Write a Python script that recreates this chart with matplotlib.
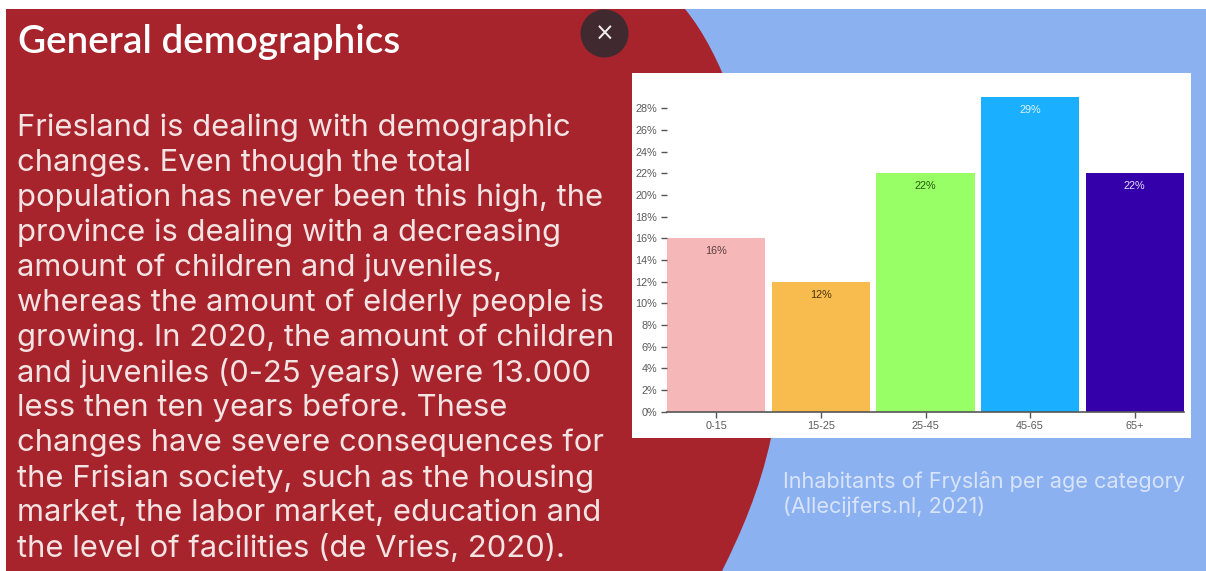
import matplotlib
matplotlib.use('Agg')
import matplotlib.pyplot as plt
from matplotlib.patches import Circle, PathPatch, Rectangle
from matplotlib.path import Path

W, H = 1206, 571

age_groups = ['0-15', '15-25', '25-45', '45-65', '65+']
shares = [16, 12, 22, 29, 22]
bar_colors = ['#F5B7B7', '#F8BC4E', '#99FF66', '#1AB0FF', '#3300AA']
value_colors = ['#5A3E3E', '#4A3408', '#245A0C', '#DFF3FF', '#E8E0FF']
pct_ticks = list(range(0, 29, 2))

title = 'General demographics'
body_lines = [
    'Friesland is dealing with demographic',
    'changes. Even though the total',
    'population has never been this high, the',
    'province is dealing with a decreasing',
    'amount of children and juveniles,',
    'whereas the amount of elderly people is',
    'growing. In 2020, the amount of children',
    'and juveniles (0-25 years) were 13.000',
    'less then ten years before. These',
    'changes have severe consequences for',
    'the Frisian society, such as the housing',
    'market, the labor market, education and',
    'the level of facilities (de Vries, 2020).',
]
caption_lines = ['Inhabitants of Fryslân per age category', '(Allecijfers.nl, 2021)']

RED = '#A8242D'
BLUE = '#8CB1F1'

fig = plt.figure(figsize=(W / 100, H / 100), dpi=100, facecolor='white')

# full-size layer in pixel coordinates for the slide background and copy
bg = fig.add_axes([0, 0, 1, 1])
bg.set_xlim(0, W)
bg.set_ylim(H, 0)
bg.axis('off')

bg.add_patch(Rectangle((6, 9), W - 6, H - 9, fc=BLUE, ec='none'))
verts = [(6, 9), (685, 9),
         (760, 100), (790, 330), (771, 438),
         (760, 490), (740, 535), (722, 571),
         (6, 571), (6, 9)]
codes = [Path.MOVETO, Path.LINETO,
         Path.CURVE4, Path.CURVE4, Path.CURVE4,
         Path.CURVE4, Path.CURVE4, Path.CURVE4,
         Path.LINETO, Path.CLOSEPOLY]
bg.add_patch(PathPatch(Path(verts, codes), fc=RED, ec='none'))

# close button
bg.add_patch(Circle((604.5, 33.5), 24, fc='#40292F', ec='none'))
bg.text(604.5, 31.5, '×', color='#F4EEEE', fontsize=17, ha='center', va='center_baseline',
        family='DejaVu Sans')

bg.text(18, 39, title, color='white', fontsize=27.8, fontweight='semibold', family='Lato',
        ha='left', va='center_baseline')

for i, line in enumerate(body_lines):
    bg.text(17, 124.5 + i * 35.08, line, color='#F3E3E3', fontsize=22.25, family='Inter',
            fontweight='normal', ha='left', va='center_baseline')

for i, line in enumerate(caption_lines):
    bg.text(783, 480 + i * 25, line, color='#D8E4FA', fontsize=15.6, family='Inter',
            fontweight='normal', ha='left', va='center_baseline')

# white card behind the bar chart
bg.add_patch(Rectangle((632, 73), 559, 365, fc='white', ec='none'))

# bar chart
ax = fig.add_axes([667 / W, 1 - 411.7 / H, 517 / W, (411.7 - 97.5) / H])
ax.patch.set_alpha(0)
x = list(range(len(age_groups)))
ax.bar(x, shares, width=0.94, color=bar_colors)
ax.set_xlim(-0.47, 4.47)
ax.set_ylim(0, 29)

for s in ['top', 'right', 'left']:
    ax.spines[s].set_visible(False)
ax.spines['bottom'].set_color('#555555')
ax.spines['bottom'].set_linewidth(1.2)

ax.set_xticks(x)
ax.set_xticklabels(age_groups)
ax.set_yticks(pct_ticks)
ax.set_yticklabels([f'{p}%' for p in pct_ticks])
ax.tick_params(axis='both', labelsize=7.8, labelcolor='#5A5A5A', color='#555555',
               length=4.5, width=1, pad=2.5)
for label in ax.get_xticklabels() + ax.get_yticklabels():
    label.set_family('Liberation Sans')

for i, share in enumerate(shares):
    ax.annotate(f'{share}%', (i, share), xytext=(0, -13), textcoords='offset pixels',
                ha='center', va='center', fontsize=7.8, color=value_colors[i],
                family='Liberation Sans')

fig.savefig('out.png', dpi=100)
